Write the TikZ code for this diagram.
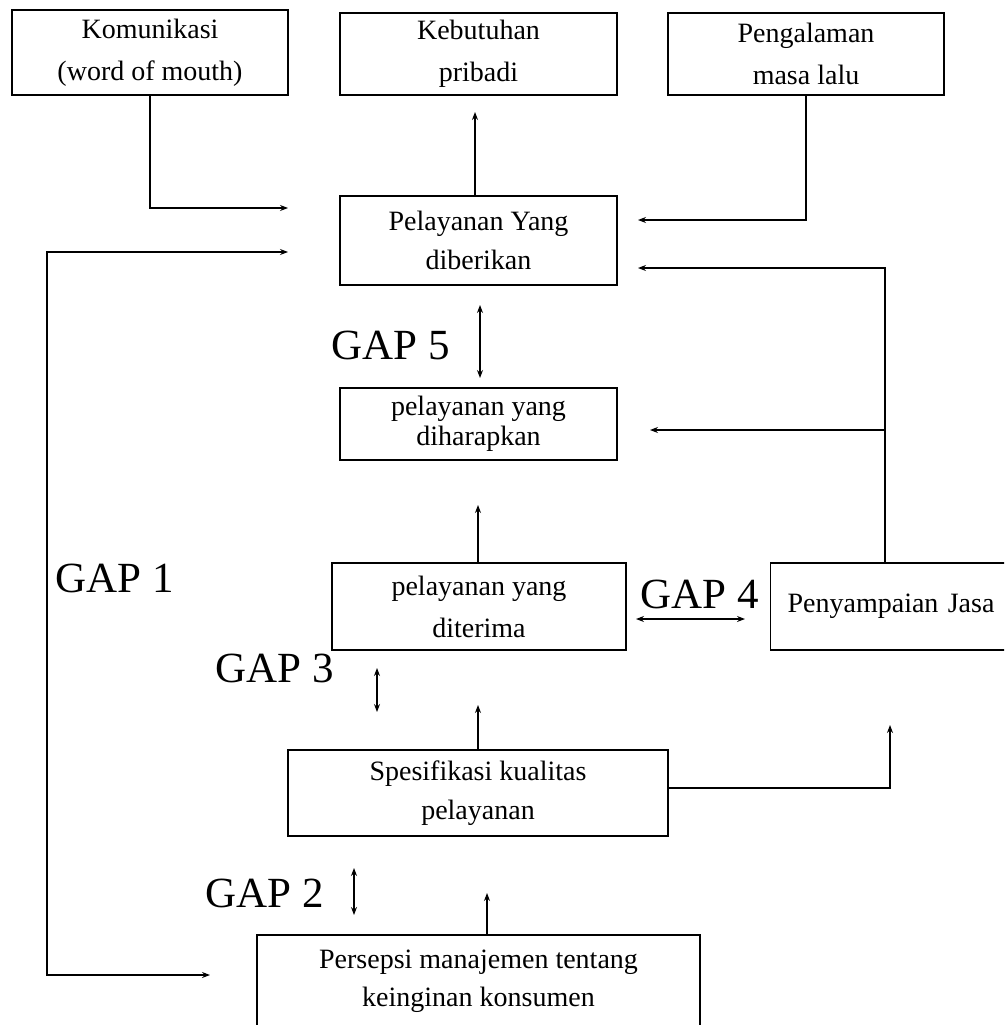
\documentclass[tikz,border=0pt]{standalone}
\usepackage{fontspec}
\setmainfont{Liberation Serif}
\usetikzlibrary{arrows.meta}
\tikzset{
  box/.style={draw, line width=1.2pt, inner sep=0pt, align=center,
    font=\fontsize{28}{42}\selectfont},
  arr/.style={line width=1.1pt, -{Stealth[length=8pt,width=6pt]}},
  darr/.style={line width=1.1pt, {Stealth[length=8pt,width=6pt]}-{Stealth[length=8pt,width=6pt]}},
  gap/.style={font=\fontsize{43}{46}\selectfont, inner sep=0pt}
}
\begin{document}
\begin{tikzpicture}[x=1pt,y=-1pt]
\useasboundingbox (0,0) rectangle (1004,1025);
\clip (0,0) rectangle (1004,1025);
\fill[white] (0,0) rectangle (1004,1025);
% boxes
\node[box, minimum width=276pt, minimum height=85pt] (kom) at (150,52.5) {Komunikasi\\(word of mouth)};
\node[box, minimum width=277pt, minimum height=82pt] (keb) at (478.5,54) {Kebutuhan\\pribadi};
\node[box, minimum width=276pt, minimum height=82pt] (peng) at (806,54) {Pengalaman\\masa lalu};
\node[box, minimum width=277pt, minimum height=89pt, font=\fontsize{28}{39}\selectfont] (beri) at (478.5,240.5) {Pelayanan Yang\\diberikan};
\node[box, minimum width=277pt, minimum height=72pt, font=\fontsize{28}{30}\selectfont] (harap) at (478.5,424) {pelayanan yang\\diharapkan};
\node[box, minimum width=294pt, minimum height=87pt, font=\fontsize{28}{42}\selectfont] (terima) at (479,606.5) {pelayanan yang\\diterima};
\node[box, anchor=west, text width=226pt, inner xsep=17pt, align=left, minimum height=87pt] (jasa) at (770,606.5) {Penyampaian Jasa};
\node[box, minimum width=380pt, minimum height=86pt, font=\fontsize{28}{39}\selectfont] (spes) at (478,793) {Spesifikasi kualitas\\pelayanan};
\node[box, minimum width=443pt, minimum height=92pt, font=\fontsize{28}{38}\selectfont] (pers) at (478.5,981) {Persepsi manajemen tentang\\keinginan konsumen};
% free ends
\coordinate (k1) at (288,208);
\coordinate (kebin) at (475,112);
\coordinate (p1) at (638,220);
\coordinate (j1) at (638,268);
\coordinate (jup) at ([xshift=115pt]jasa.north west);
\coordinate (jbr) at (885,430);
\coordinate (h1) at (650,430);
\coordinate (g5a) at (480,305);
\coordinate (g5b) at (480,378);
\coordinate (g1a) at (288,252);
\coordinate (g1c) at (47,975);
\coordinate (g1b) at (210,975);
\coordinate (t1) at (478,505);
\coordinate (g4a) at (636,619);
\coordinate (g4b) at (745,619);
\coordinate (g3a) at (377,668);
\coordinate (g3b) at (377,712);
\coordinate (s1) at (478,705);
\coordinate (s2) at (890,725);
\coordinate (g2a) at (354,868);
\coordinate (g2b) at (354,915);
\coordinate (pr1) at (487,893);
% connectors
\draw[arr] (kom.south) |- (k1);
\draw[arr] (kebin |- beri.north) -- (kebin);
\draw[arr] (peng.south) |- (p1);
\draw[arr] (jup) |- (j1);
\draw[arr] (jbr) -- (h1);
\draw[darr] (g5a) -- (g5b);
\draw[darr] (g1a) -| (g1c) -- (g1b);
\draw[arr] (t1 |- terima.north) -- (t1);
\draw[darr] (g4a) -- (g4b);
\draw[darr] (g3a) -- (g3b);
\draw[arr] (s1 |- spes.north) -- (s1);
\draw[arr] (spes.east |- 0,788) -| (s2);
\draw[darr] (g2a) -- (g2b);
\draw[arr] (pr1 |- pers.north) -- (pr1);
% gap labels
\node[gap] (gap5) at (391,345) {GAP 5};
\node[gap] (gap4) at (700,594) {GAP 4};
\node[gap] (gap3) at (275,668) {GAP 3};
\node[gap] (gap2) at (265,893) {GAP 2};
\node[gap] (gap1) at (115,578) {GAP 1};
\end{tikzpicture}
\end{document}
